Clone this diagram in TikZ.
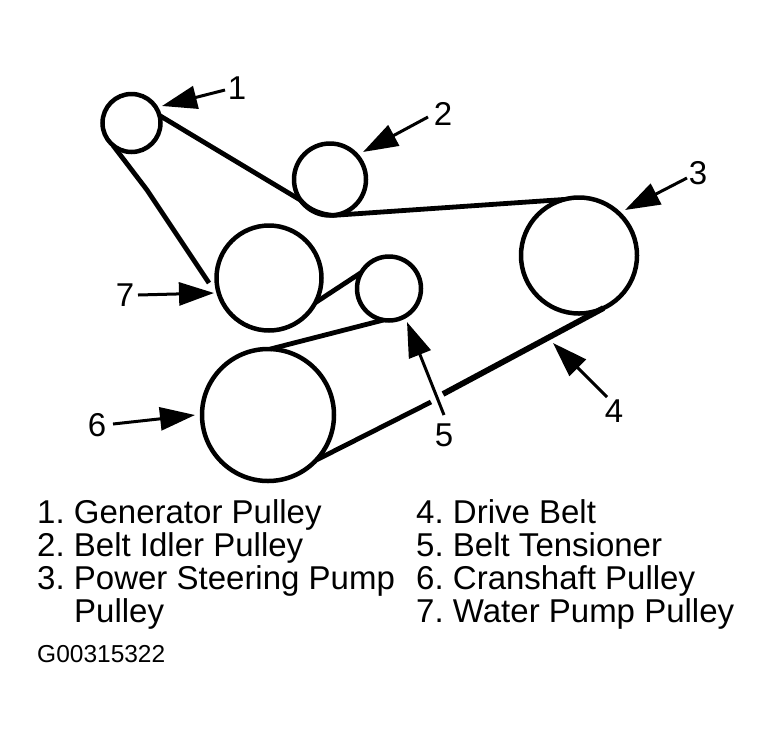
\documentclass[tikz,border=0pt]{standalone}
\usepackage{fontspec}
\setmainfont{Liberation Sans}
\usetikzlibrary{arrows.meta}
\newcommand{\numgap}{\hspace{-3pt}}
\tikzset{
 pulley/.style={circle,draw=black,line width=4.5pt,inner sep=0pt,outer sep=0pt},
 belt/.style={line width=4.8pt,line join=round,black},
 thickbelt/.style={line width=5.8pt,black},
 callout/.style={line width=3pt,black,-{Triangle[length=35pt,width=23pt]},shorten >=0pt},
 num/.style={font=\fontsize{33}{33}\selectfont,inner sep=0pt,anchor=center},
 legend/.style={font=\fontsize{33}{33}\selectfont,inner sep=0pt,anchor=base west},
}
\begin{document}
\begin{tikzpicture}[x=1pt,y=-1pt]
\useasboundingbox (0,0) rectangle (773,737);
\node[pulley,minimum size=58pt] (p1) at (131.5,123) {};
\node[pulley,minimum size=72pt] (p2) at (330,179.5) {};
\node[pulley,minimum size=116pt] (p3) at (579,255.5) {};
\node[pulley,minimum size=64pt] (p5) at (389,288.5) {};
\node[pulley,minimum size=132pt] (p6) at (268,415) {};
\node[pulley,minimum size=105pt] (p7) at (269,278) {};
% belt
\coordinate (kink) at (147,190);
\coordinate (b7) at (209,283);
\coordinate (gapA) at (443,394);
\coordinate (gapB) at (431,402);
\draw[belt] (p1.-130) -- (kink) -- (b7);
\draw[belt] (p1.15) -- (p2.-145) .. controls (306,207) and (316,214) .. (p2.-85) -- (p3.105);
\draw[belt] (p7.-28) -- (p5.150);
\draw[belt] (p6.88) -- (p5.-100);
\draw[thickbelt] (p3.-65) -- (gapA);
\draw[belt] (gapB) -- (p6.-43);
% labels
\node[num] (n1) at (237,88) {1};
\node[num] (n2) at (443,114) {2};
\node[num] (n3) at (698,173) {3};
\node[num] (n4) at (614,411) {4};
\node[num] (n5) at (444,435) {5};
\node[num] (n6) at (97,425) {6};
\node[num] (n7) at (125,295) {7};
% callout tips
\coordinate (t1) at (162,106);
\coordinate (t2) at (363,152);
\coordinate (t3) at (625,210);
\coordinate (t4) at (553,343);
\coordinate (t5) at (407,322);
\coordinate (t6) at (195,415);
\coordinate (t7) at (214,293);
\coordinate (s1) at (225,90);
\coordinate (s2) at (428,117);
\coordinate (s3) at (687,178);
\coordinate (s4) at (607,397);
\coordinate (s5) at (444,415);
\coordinate (s6) at (113,424);
\coordinate (s7) at (138,295);
\foreach \i in {1,...,7}{\draw[callout] (s\i) -- (t\i);}
% legend
\node[legend] (l1) at (37,523) {1.\numgap{} Generator Pulley};
\node[legend] (l2) at (37,556) {2.\numgap{} Belt Idler Pulley};
\node[legend] (l3) at (37,589.5) {3.\numgap{} Power Steering Pump};
\node[legend] (l3b) at (74,622.5) {Pulley};
\node[legend] (l4) at (416,523) {4.\numgap{} Drive Belt};
\node[legend] (l5) at (416,556) {5.\numgap{} Belt Tensioner};
\node[legend] (l6) at (416,589.5) {6.\numgap{} Cranshaft Pulley};
\node[legend] (l7) at (416,622.5) {7.\numgap{} Water Pump Pulley};
\node[font=\fontsize{24.5}{25}\selectfont,inner sep=0pt,anchor=base west] (code) at (37,662) {G00315322};
\end{tikzpicture}
\end{document}
